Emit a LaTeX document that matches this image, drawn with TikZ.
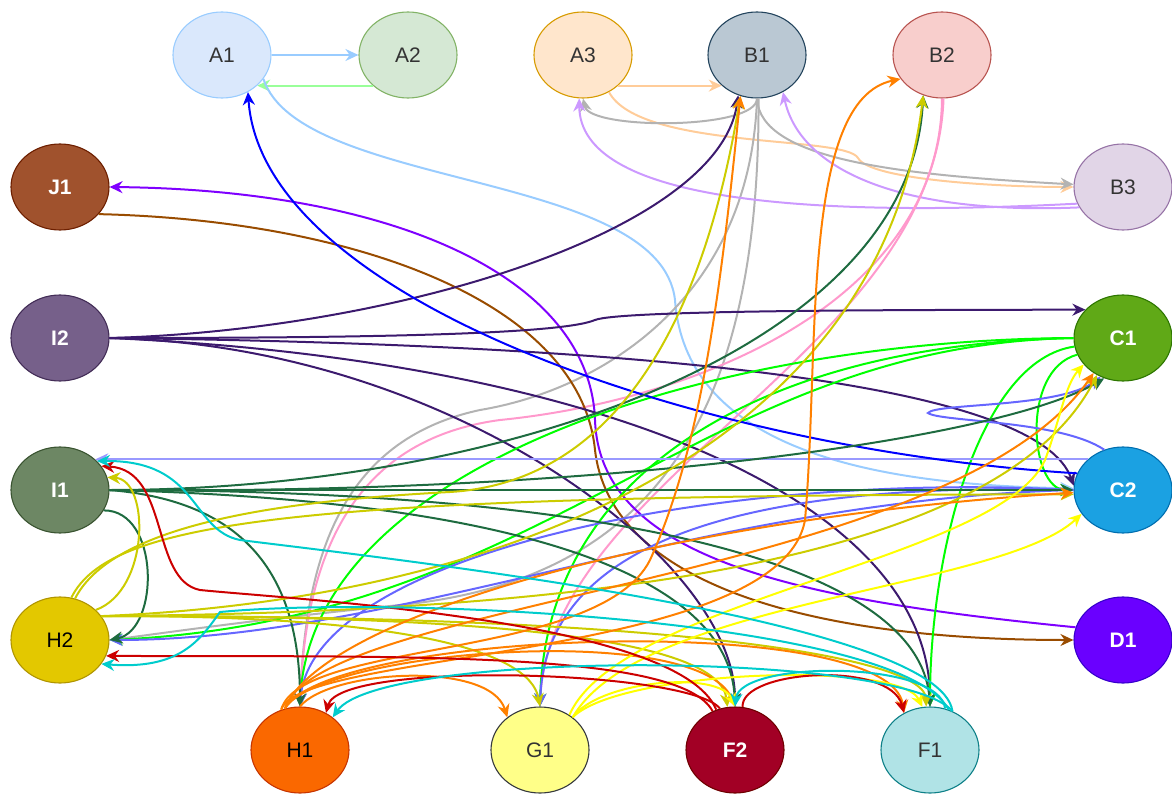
\documentclass[tikz,border=0pt]{standalone}
\usepackage{fontspec}
\setmainfont{Liberation Sans}
\usetikzlibrary{arrows.meta, positioning, shapes.geometric}

% node colours
\definecolor{A1fill}{HTML}{DAE8FC}\definecolor{A1draw}{HTML}{99CCFF}
\definecolor{A2fill}{HTML}{D5E8D4}\definecolor{A2draw}{HTML}{82B366}
\definecolor{A3fill}{HTML}{FFE6CC}\definecolor{A3draw}{HTML}{D79B00}
\definecolor{B1fill}{HTML}{BAC8D3}\definecolor{B1draw}{HTML}{23445D}
\definecolor{B2fill}{HTML}{F8CECC}\definecolor{B2draw}{HTML}{B85450}
\definecolor{B3fill}{HTML}{E1D5E7}\definecolor{B3draw}{HTML}{9673A6}
\definecolor{J1fill}{HTML}{A0522D}\definecolor{J1draw}{HTML}{6D1F00}
\definecolor{I2fill}{HTML}{76608A}\definecolor{I2draw}{HTML}{432D57}
\definecolor{C1fill}{HTML}{60A917}\definecolor{C1draw}{HTML}{2D7600}
\definecolor{I1fill}{HTML}{6D8764}\definecolor{I1draw}{HTML}{3A5431}
\definecolor{C2fill}{HTML}{1BA1E2}\definecolor{C2draw}{HTML}{006EAF}
\definecolor{H2fill}{HTML}{E3C800}\definecolor{H2draw}{HTML}{B09500}
\definecolor{D1fill}{HTML}{6A00FF}\definecolor{D1draw}{HTML}{3700CC}
\definecolor{H1fill}{HTML}{FA6800}\definecolor{H1draw}{HTML}{C73500}
\definecolor{G1fill}{HTML}{FFFF88}\definecolor{G1draw}{HTML}{36393D}
\definecolor{F2fill}{HTML}{A20025}\definecolor{F2draw}{HTML}{6F0000}
\definecolor{F1fill}{HTML}{B0E3E6}\definecolor{F1draw}{HTML}{0E8088}
\definecolor{txtdark}{HTML}{333333}

% edge colours
\definecolor{ea1}{HTML}{99CCFF}
\definecolor{ea2}{HTML}{99FF99}
\definecolor{ea3}{HTML}{FFCC99}
\definecolor{eb1}{HTML}{B3B3B3}
\definecolor{eb2}{HTML}{FF99CC}
\definecolor{eb3}{HTML}{CC99FF}
\definecolor{ec1}{HTML}{00FF00}
\definecolor{ec2}{HTML}{6666FF}
\definecolor{eblue}{HTML}{0000FF}
\definecolor{elav}{HTML}{9999FF}
\definecolor{ed1}{HTML}{7F00FF}
\definecolor{ej1}{HTML}{994C00}
\definecolor{ei2}{HTML}{3C1A6E}
\definecolor{ei1}{HTML}{1E6B40}
\definecolor{eh2}{HTML}{CCCC00}
\definecolor{eh1}{HTML}{FF8000}
\definecolor{eg1}{HTML}{FFFF00}
\definecolor{ef2}{HTML}{CC0000}
\definecolor{ef1}{HTML}{00CCCC}

\begin{document}
\begin{tikzpicture}[x=1pt,y=-1pt,>={Stealth[length=13pt,width=12pt]},
    blob/.style={ellipse, minimum width=98pt, minimum height=86pt, inner sep=0pt,
        line width=1.1pt, font=\fontsize{21}{25}\selectfont},
    link/.style={line width=2pt, ->}]

    \useasboundingbox (0,0) rectangle (1172,794);

    %--------------------------------
    % nodes
    %--------------------------------
    \foreach \nm/\px/\py/\tc/\fw in {
        A1/222/55/txtdark/\mdseries, A2/408/55/txtdark/\mdseries,
        A3/583/55/txtdark/\mdseries, B1/757/55/txtdark/\mdseries,
        B2/942/55/txtdark/\mdseries, B3/1123/187/txtdark/\mdseries,
        J1/60/187/white/\bfseries,   I2/60/338/white/\bfseries,
        C1/1123/338/white/\bfseries, I1/60/490/white/\bfseries,
        C2/1123/490/white/\bfseries, H2/60/640/black/\mdseries,
        D1/1123/640/white/\bfseries, H1/300/750/black/\mdseries,
        G1/540/750/txtdark/\mdseries, F2/735/750/white/\bfseries,
        F1/930/750/txtdark/\mdseries}{
        \node[blob, fill=\nm fill, draw=\nm draw, text=\tc] (\nm) at (\px,\py) {\fw\nm};
    }

    %--------------------------------
    % top row
    %--------------------------------
    \draw[link, ea1] (A1.east) -- (A2.west);
    \draw[link, ea2] (A2.-139) -- (A1.-41);
    \draw[link, ea3] (A3.-41) -- (B1.-139);
    \draw[link, ea3] (A3.-55) .. controls (640,150) and (845,135) .. (858,158)
        .. controls (870,180) and (1000,187) .. (B3.west);
    \draw[link, ea1] (A1.-30) .. controls (300,190) and (660,170) .. (675,300)
        .. controls (685,440) and (850,485) .. (C2.178);

    % B1 (gray)
    \foreach \src/\dst/\ax/\ay/\bx/\by in {
        B1.-90/A3.-90/757/130/590/130,
        B1.-90/B3.177/760/160/900/175}{
        \draw[link, eb1] (\src) .. controls (\ax,\ay) and (\bx,\by) .. (\dst);
    }
    \draw[link, eb1] (B1.-90) .. controls (750,300) and (600,390) .. (480,410)
        .. controls (340,440) and (305,560) .. (H1.north);
    \draw[link, eb1] (B1.-88) .. controls (760,420) and (650,580) .. (400,605)
        .. controls (250,620) and (150,635) .. (H2.east);

    % B3, B2
    \draw[link, eb3] (B3.-155) .. controls (900,215) and (800,170) .. (B1.-55);
    \draw[link, eb3] (B3.-160) .. controls (800,218) and (580,200) .. (A3.-95);
    \draw[link, eb2] (B2.-90) .. controls (940,300) and (700,400) .. (500,420)
        .. controls (350,440) and (305,560) .. (H1.north);
    \draw[link, eb2] (B2.-88) .. controls (935,350) and (550,480) .. (G1.north);

    %--------------------------------
    % J1 / D1
    %--------------------------------
    \draw[link, ej1] (J1.-35) .. controls (350,220) and (580,300) .. (595,450)
        .. controls (610,580) and (800,640) .. (D1.west);
    \draw[link, ed1] (D1.165) .. controls (800,600) and (600,560) .. (595,420)
        .. controls (590,280) and (400,190) .. (J1.east);

    %--------------------------------
    % I2
    %--------------------------------
    \draw[link, ei2] (I2.east) .. controls (350,338) and (560,335) .. (595,320)
        .. controls (620,310) and (900,310) .. (C1.143);
    \foreach \dst/\ax/\ay/\bx/\by in {
        B1.-115/400/330/720/230, C2.175/700/345/1040/390,
        F1.north/600/360/930/500, F2.north/450/345/735/560}{
        \draw[link, ei2] (I2.east) .. controls (\ax,\ay) and (\bx,\by) .. (\dst);
    }

    %--------------------------------
    % C1 (green), C2 (blue)
    %--------------------------------
    \foreach \src/\dst/\ax/\ay/\bx/\by in {
        C1.west/H1.north/700/340/310/470, C1.west/G1.north/750/345/545/480,
        C1.west/H2.east/700/345/550/620, C1.-170/F1.north/980/360/930/550,
        C1.-160/C2.west/1020/370/1030/490}{
        \draw[link, ec1] (\src) .. controls (\ax,\ay) and (\bx,\by) .. (\dst);
    }

    \draw[link, elav] (C2.139) -- (I1.41);
    \draw[link, eblue] (C2.160) .. controls (700,450) and (262,300) .. (A1.-55);
    \foreach \dst/\ax/\ay/\bx/\by in {
        H1.north/700/470/310/560, G1.north/700/480/545/560,
        H2.east/700/500/400/640}{
        \draw[link, ec2] (C2.west) .. controls (\ax,\ay) and (\bx,\by) .. (\dst);
    }
    \draw[link, ec2] (C2.115) .. controls (1060,420) and (940,422) .. (928,413)
        .. controls (935,403) and (1060,408) .. (C1.-120);

    %--------------------------------
    % I1 (dark green)
    %--------------------------------
    \draw[link, ei1] (I1.east) -- (C2.west);
    \foreach \dst/\ax/\ay/\bx/\by in {
        C1.-115/600/495/1000/440, B2.-115/500/490/910/350,
        H1.north/230/500/300/560, F2.north/500/500/730/570,
        F1.north/600/490/920/560}{
        \draw[link, ei1] (I1.east) .. controls (\ax,\ay) and (\bx,\by) .. (\dst);
    }
    \draw[link, ei1] (I1.-25) .. controls (160,510) and (160,630) .. (H2.east);

    %--------------------------------
    % H2 (olive)
    %--------------------------------
    \draw[link, eh2] (H2.40) .. controls (150,590) and (150,480) .. (I1.15);
    \draw[link, eh2] (H2.75) .. controls (110,520) and (300,495) .. (C2.185);
    \draw[link, eh2] (H2.70) .. controls (115,520) and (300,500) .. (450,492)
        .. controls (650,480) and (715,250) .. (B1.-112);
    \foreach \dst/\ax/\ay/\bx/\by in {
        B2.-115/500/600/880/450, C1.-125/600/612/1000/560,
        G1.north/400/615/530/650, F2.100/500/615/720/640,
        F1.95/700/615/925/660}{
        \draw[link, eh2] (H2.30) .. controls (\ax,\ay) and (\bx,\by) .. (\dst);
    }

    %--------------------------------
    % H1 (orange)
    %--------------------------------
    \draw[link, eh1] (H1.115) .. controls (300,640) and (600,660) .. (650,560)
        .. controls (700,450) and (720,300) .. (B1.-112);
    \draw[link, eh1] (H1.115) .. controls (300,650) and (780,660) .. (805,520)
        .. controls (820,350) and (800,100) .. (B2.-150);
    \foreach \dst/\ax/\ay/\bx/\by in {
        C1.-130/320/600/950/580, C2.183/320/620/650/520,
        F2.north/320/650/700/620, F1.125/330/630/890/610}{
        \draw[link, eh1] (H1.110) .. controls (\ax,\ay) and (\bx,\by) .. (\dst);
    }
    \draw[link, eh1] (H1.north) .. controls (330,670) and (490,660) .. (G1.135);

    %--------------------------------
    % G1 (yellow)
    %--------------------------------
    \draw[link, eg1] (G1.50) .. controls (620,600) and (1000,560) .. (1045,460)
        .. controls (1060,420) and (1065,385) .. (C1.-146);
    \foreach \dst/\ax/\ay/\bx/\by in {
        C2.-150/640/600/1000/590, F2.north/600/680/720/670,
        F1.100/620/670/900/660}{
        \draw[link, eg1] (G1.45) .. controls (\ax,\ay) and (\bx,\by) .. (\dst);
    }

    %--------------------------------
    % F2 (red), F1 (cyan)
    %--------------------------------
    \draw[link, ef2] (F2.115) .. controls (680,620) and (300,600) .. (200,590)
        .. controls (150,580) and (170,470) .. (I1.30);
    \foreach \src/\dst/\ax/\ay/\bx/\by in {
        F2.120/H2.-19/680/650/400/657, F2.110/H1.55/690/670/340/660,
        F2.80/F1.125/740/670/890/660}{
        \draw[link, ef2] (\src) .. controls (\ax,\ay) and (\bx,\by) .. (\dst);
    }

    \draw[link, ef1] (F1.60) .. controls (940,620) and (400,560) .. (240,540)
        .. controls (190,530) and (200,460) .. (I1.38);
    \draw[link, ef1] (F1.65) .. controls (900,620) and (400,595) .. (220,612)
        .. controls (200,640) and (180,670) .. (H2.-30);
    \draw[link, ef1] (F1.60) .. controls (900,650) and (380,650) .. (H1.45);
    \draw[link, ef1] (F1.70) .. controls (940,660) and (740,660) .. (F2.north);

\end{tikzpicture}
\end{document}
